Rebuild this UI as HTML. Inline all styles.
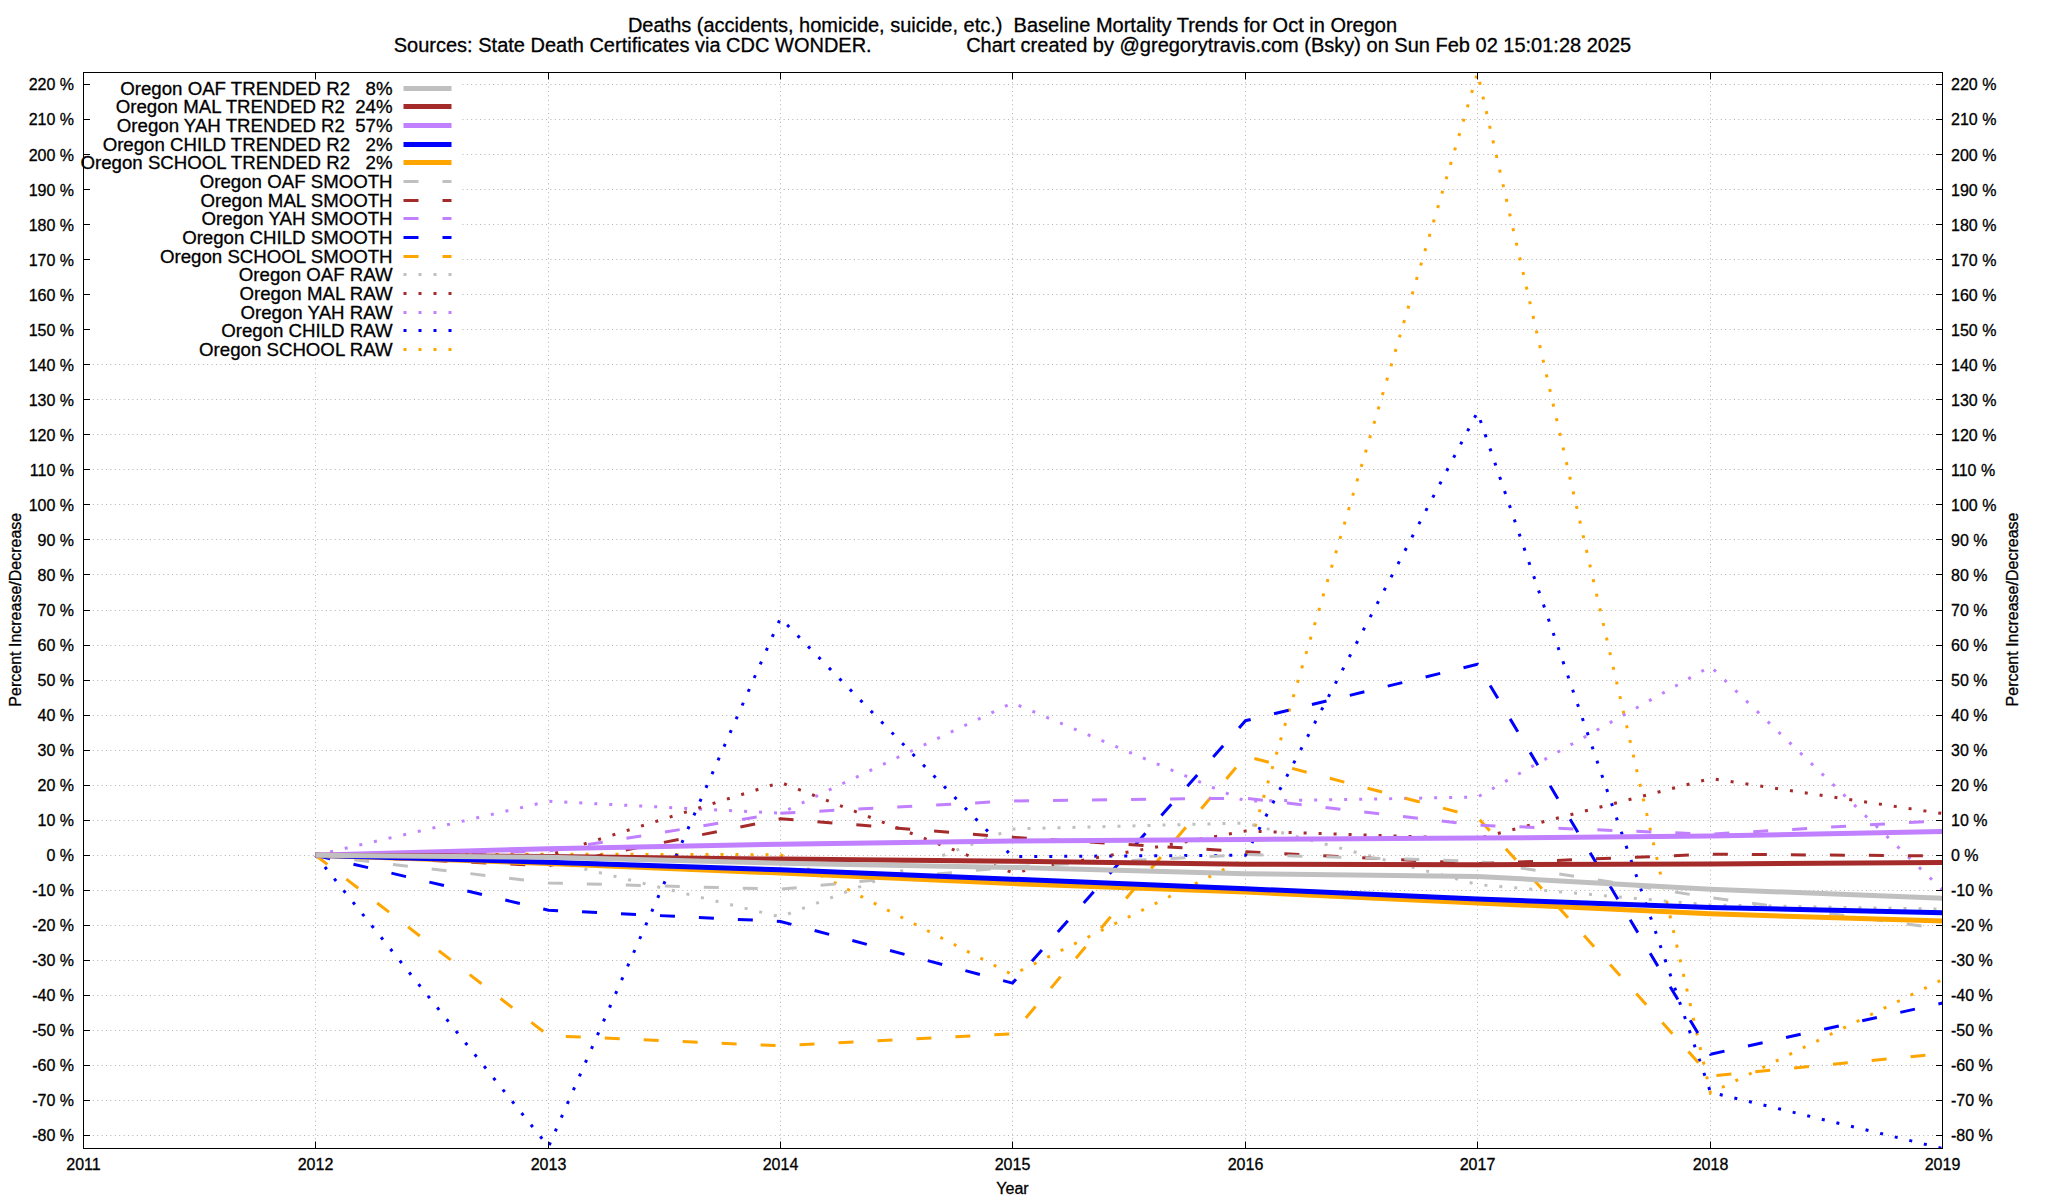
<!DOCTYPE html>
<html lang="en"><head><meta charset="utf-8"><title>Baseline Mortality Trends for Oct in Oregon</title>
<style>html,body{margin:0;padding:0;background:#fff}body{width:2048px;height:1200px;overflow:hidden}svg{display:block}text{font-family:"Liberation Sans",sans-serif;fill:#000;stroke:#000;stroke-width:0.3px}</style>
</head><body>
<svg width="2048" height="1200" viewBox="0 0 2048 1200">
<rect width="2048" height="1200" fill="#fff"/>
<defs><clipPath id="plot"><rect x="83.5" y="72.5" width="1859.0" height="1076.0"/></clipPath></defs>
<g stroke="#b2b2b2" stroke-width="1" stroke-dasharray="1 3.4" fill="none">
<line x1="84.0" y1="1135.50" x2="1942.5" y2="1135.50"/>
<line x1="84.0" y1="1100.50" x2="1942.5" y2="1100.50"/>
<line x1="84.0" y1="1065.50" x2="1942.5" y2="1065.50"/>
<line x1="84.0" y1="1030.50" x2="1942.5" y2="1030.50"/>
<line x1="84.0" y1="995.50" x2="1942.5" y2="995.50"/>
<line x1="84.0" y1="960.50" x2="1942.5" y2="960.50"/>
<line x1="84.0" y1="925.50" x2="1942.5" y2="925.50"/>
<line x1="84.0" y1="890.50" x2="1942.5" y2="890.50"/>
<line x1="84.0" y1="855.50" x2="1942.5" y2="855.50"/>
<line x1="84.0" y1="820.50" x2="1942.5" y2="820.50"/>
<line x1="84.0" y1="785.50" x2="1942.5" y2="785.50"/>
<line x1="84.0" y1="750.50" x2="1942.5" y2="750.50"/>
<line x1="84.0" y1="715.50" x2="1942.5" y2="715.50"/>
<line x1="84.0" y1="680.50" x2="1942.5" y2="680.50"/>
<line x1="84.0" y1="645.50" x2="1942.5" y2="645.50"/>
<line x1="84.0" y1="610.50" x2="1942.5" y2="610.50"/>
<line x1="84.0" y1="574.50" x2="1942.5" y2="574.50"/>
<line x1="84.0" y1="539.50" x2="1942.5" y2="539.50"/>
<line x1="84.0" y1="504.50" x2="1942.5" y2="504.50"/>
<line x1="84.0" y1="469.50" x2="1942.5" y2="469.50"/>
<line x1="84.0" y1="434.50" x2="1942.5" y2="434.50"/>
<line x1="84.0" y1="399.50" x2="1942.5" y2="399.50"/>
<line x1="84.0" y1="364.50" x2="1942.5" y2="364.50"/>
<line x1="84.0" y1="329.50" x2="1942.5" y2="329.50"/>
<line x1="84.0" y1="294.50" x2="1942.5" y2="294.50"/>
<line x1="84.0" y1="259.50" x2="1942.5" y2="259.50"/>
<line x1="84.0" y1="224.50" x2="1942.5" y2="224.50"/>
<line x1="84.0" y1="189.50" x2="1942.5" y2="189.50"/>
<line x1="84.0" y1="154.50" x2="1942.5" y2="154.50"/>
<line x1="84.0" y1="119.50" x2="1942.5" y2="119.50"/>
<line x1="84.0" y1="84.50" x2="1942.5" y2="84.50"/>
<line x1="315.50" y1="1148.0" x2="315.50" y2="72.5"/>
<line x1="548.50" y1="1148.0" x2="548.50" y2="72.5"/>
<line x1="780.50" y1="1148.0" x2="780.50" y2="72.5"/>
<line x1="1012.50" y1="1148.0" x2="1012.50" y2="72.5"/>
<line x1="1245.50" y1="1148.0" x2="1245.50" y2="72.5"/>
<line x1="1477.50" y1="1148.0" x2="1477.50" y2="72.5"/>
<line x1="1710.50" y1="1148.0" x2="1710.50" y2="72.5"/>
</g>
<rect x="84" y="73" width="377" height="286" fill="#fff"/>
<g clip-path="url(#plot)" fill="none" stroke-linejoin="miter" stroke-linecap="butt">
<polyline points="315.50,855.23 548.50,854.18 780.50,854.71 1012.50,974.70 1245.50,858.74 1477.50,72.94 1710.50,1093.11 1942.50,979.60" stroke="#ffa500" stroke-width="3" stroke-dasharray="3 12"/>
<polyline points="315.50,855.23 548.50,1146.71 780.50,618.06 1012.50,856.63 1245.50,855.23 1477.50,412.06 1710.50,1092.23 1942.50,1148.46" stroke="#0000ff" stroke-width="3" stroke-dasharray="3 12"/>
<polyline points="315.50,855.23 548.50,801.28 780.50,813.19 1012.50,702.84 1245.50,801.28 1477.50,797.08 1710.50,666.40 1942.50,889.92" stroke="#c080ff" stroke-width="3" stroke-dasharray="3 12"/>
<polyline points="315.50,855.23 548.50,855.23 780.50,782.36 1012.50,872.75 1245.50,831.06 1477.50,838.77 1710.50,778.51 1942.50,813.54" stroke="#a52a2a" stroke-width="3" stroke-dasharray="3 12"/>
<polyline points="315.50,855.23 548.50,860.14 780.50,916.89 1012.50,828.96 1245.50,823.00 1477.50,884.52 1710.50,904.98 1942.50,909.18" stroke="#c0c0c0" stroke-width="3" stroke-dasharray="3 12"/>
<polyline points="315.50,855.23 548.50,1035.65 780.50,1045.81 1012.50,1033.90 1245.50,756.09 1477.50,817.22 1710.50,1076.12 1942.50,1053.52" stroke="#ffa500" stroke-width="3" stroke-dasharray="15 24"/>
<polyline points="315.50,855.23 548.50,910.24 780.50,921.45 1012.50,983.11 1245.50,720.71 1477.50,664.30 1710.50,1054.22 1942.50,1003.07" stroke="#0000ff" stroke-width="3" stroke-dasharray="15 24"/>
<polyline points="315.50,855.23 548.50,851.03 780.50,813.19 1012.50,800.93 1245.50,798.13 1477.50,825.24 1710.50,834.21 1942.50,820.55" stroke="#c080ff" stroke-width="3" stroke-dasharray="15 24"/>
<polyline points="315.50,855.23 548.50,865.74 780.50,818.80 1012.50,837.37 1245.50,851.73 1477.50,863.64 1710.50,854.18 1942.50,855.93" stroke="#a52a2a" stroke-width="3" stroke-dasharray="15 24"/>
<polyline points="315.50,855.23 548.50,882.91 780.50,889.22 1012.50,866.79 1245.50,854.53 1477.50,861.19 1710.50,897.62 1942.50,928.80" stroke="#c0c0c0" stroke-width="3" stroke-dasharray="15 24"/>
<polyline points="315.50,855.23 548.50,863.47 780.50,873.10 1012.50,883.61 1245.50,892.02 1477.50,902.88 1710.50,913.74 1942.50,921.10" stroke="#ffa500" stroke-width="5"/>
<polyline points="315.50,855.23 548.50,862.24 780.50,869.77 1012.50,879.23 1245.50,888.73 1477.50,899.02 1710.50,907.43 1942.50,912.86" stroke="#0000ff" stroke-width="5"/>
<polyline points="315.50,855.23 548.50,848.72 780.50,844.23 1012.50,840.94 1245.50,839.47 1477.50,838.07 1710.50,835.97 1942.50,831.62" stroke="#c080ff" stroke-width="5"/>
<polyline points="315.50,855.23 548.50,856.46 780.50,859.09 1012.50,861.19 1245.50,864.24 1477.50,864.69 1710.50,863.99 1942.50,862.59" stroke="#a52a2a" stroke-width="5"/>
<polyline points="315.50,855.23 548.50,857.23 780.50,863.29 1012.50,867.50 1245.50,873.73 1477.50,876.43 1710.50,889.22 1942.50,898.22" stroke="#c0c0c0" stroke-width="5"/>
</g>
<g stroke="#000" stroke-width="1" fill="none">
<rect x="83.5" y="72.5" width="1859.0" height="1076.0"/>
<path d="M83.5 1135.5h6.5M1942.5 1135.5h-6.5M83.5 1100.5h6.5M1942.5 1100.5h-6.5M83.5 1065.5h6.5M1942.5 1065.5h-6.5M83.5 1030.5h6.5M1942.5 1030.5h-6.5M83.5 995.5h6.5M1942.5 995.5h-6.5M83.5 960.5h6.5M1942.5 960.5h-6.5M83.5 925.5h6.5M1942.5 925.5h-6.5M83.5 890.5h6.5M1942.5 890.5h-6.5M83.5 855.5h6.5M1942.5 855.5h-6.5M83.5 820.5h6.5M1942.5 820.5h-6.5M83.5 785.5h6.5M1942.5 785.5h-6.5M83.5 750.5h6.5M1942.5 750.5h-6.5M83.5 715.5h6.5M1942.5 715.5h-6.5M83.5 680.5h6.5M1942.5 680.5h-6.5M83.5 645.5h6.5M1942.5 645.5h-6.5M83.5 610.5h6.5M1942.5 610.5h-6.5M83.5 574.5h6.5M1942.5 574.5h-6.5M83.5 539.5h6.5M1942.5 539.5h-6.5M83.5 504.5h6.5M1942.5 504.5h-6.5M83.5 469.5h6.5M1942.5 469.5h-6.5M83.5 434.5h6.5M1942.5 434.5h-6.5M83.5 399.5h6.5M1942.5 399.5h-6.5M83.5 364.5h6.5M1942.5 364.5h-6.5M83.5 329.5h6.5M1942.5 329.5h-6.5M83.5 294.5h6.5M1942.5 294.5h-6.5M83.5 259.5h6.5M1942.5 259.5h-6.5M83.5 224.5h6.5M1942.5 224.5h-6.5M83.5 189.5h6.5M1942.5 189.5h-6.5M83.5 154.5h6.5M1942.5 154.5h-6.5M83.5 119.5h6.5M1942.5 119.5h-6.5M83.5 84.5h6.5M1942.5 84.5h-6.5M83.5 1148.5v-7M83.5 72.5v7M315.5 1148.5v-7M315.5 72.5v7M548.5 1148.5v-7M548.5 72.5v7M780.5 1148.5v-7M780.5 72.5v7M1012.5 1148.5v-7M1012.5 72.5v7M1245.5 1148.5v-7M1245.5 72.5v7M1477.5 1148.5v-7M1477.5 72.5v7M1710.5 1148.5v-7M1710.5 72.5v7M1942.5 1148.5v-7M1942.5 72.5v7"/>
</g>
<g font-size="16">
<text x="74" y="1141.4" text-anchor="end">-80 %</text>
<text x="1951" y="1141.4">-80 %</text>
<text x="74" y="1106.4" text-anchor="end">-70 %</text>
<text x="1951" y="1106.4">-70 %</text>
<text x="74" y="1071.3" text-anchor="end">-60 %</text>
<text x="1951" y="1071.3">-60 %</text>
<text x="74" y="1036.3" text-anchor="end">-50 %</text>
<text x="1951" y="1036.3">-50 %</text>
<text x="74" y="1001.3" text-anchor="end">-40 %</text>
<text x="1951" y="1001.3">-40 %</text>
<text x="74" y="966.2" text-anchor="end">-30 %</text>
<text x="1951" y="966.2">-30 %</text>
<text x="74" y="931.2" text-anchor="end">-20 %</text>
<text x="1951" y="931.2">-20 %</text>
<text x="74" y="896.2" text-anchor="end">-10 %</text>
<text x="1951" y="896.2">-10 %</text>
<text x="74" y="861.1" text-anchor="end">0 %</text>
<text x="1951" y="861.1">0 %</text>
<text x="74" y="826.1" text-anchor="end">10 %</text>
<text x="1951" y="826.1">10 %</text>
<text x="74" y="791.1" text-anchor="end">20 %</text>
<text x="1951" y="791.1">20 %</text>
<text x="74" y="756.0" text-anchor="end">30 %</text>
<text x="1951" y="756.0">30 %</text>
<text x="74" y="721.0" text-anchor="end">40 %</text>
<text x="1951" y="721.0">40 %</text>
<text x="74" y="686.0" text-anchor="end">50 %</text>
<text x="1951" y="686.0">50 %</text>
<text x="74" y="650.9" text-anchor="end">60 %</text>
<text x="1951" y="650.9">60 %</text>
<text x="74" y="615.9" text-anchor="end">70 %</text>
<text x="1951" y="615.9">70 %</text>
<text x="74" y="580.9" text-anchor="end">80 %</text>
<text x="1951" y="580.9">80 %</text>
<text x="74" y="545.8" text-anchor="end">90 %</text>
<text x="1951" y="545.8">90 %</text>
<text x="74" y="510.8" text-anchor="end">100 %</text>
<text x="1951" y="510.8">100 %</text>
<text x="74" y="475.8" text-anchor="end">110 %</text>
<text x="1951" y="475.8">110 %</text>
<text x="74" y="440.7" text-anchor="end">120 %</text>
<text x="1951" y="440.7">120 %</text>
<text x="74" y="405.7" text-anchor="end">130 %</text>
<text x="1951" y="405.7">130 %</text>
<text x="74" y="370.7" text-anchor="end">140 %</text>
<text x="1951" y="370.7">140 %</text>
<text x="74" y="335.6" text-anchor="end">150 %</text>
<text x="1951" y="335.6">150 %</text>
<text x="74" y="300.6" text-anchor="end">160 %</text>
<text x="1951" y="300.6">160 %</text>
<text x="74" y="265.6" text-anchor="end">170 %</text>
<text x="1951" y="265.6">170 %</text>
<text x="74" y="230.5" text-anchor="end">180 %</text>
<text x="1951" y="230.5">180 %</text>
<text x="74" y="195.5" text-anchor="end">190 %</text>
<text x="1951" y="195.5">190 %</text>
<text x="74" y="160.5" text-anchor="end">200 %</text>
<text x="1951" y="160.5">200 %</text>
<text x="74" y="125.4" text-anchor="end">210 %</text>
<text x="1951" y="125.4">210 %</text>
<text x="74" y="90.4" text-anchor="end">220 %</text>
<text x="1951" y="90.4">220 %</text>
<text x="83.5" y="1170" text-anchor="middle">2011</text>
<text x="315.5" y="1170" text-anchor="middle">2012</text>
<text x="548.5" y="1170" text-anchor="middle">2013</text>
<text x="780.5" y="1170" text-anchor="middle">2014</text>
<text x="1012.5" y="1170" text-anchor="middle">2015</text>
<text x="1245.5" y="1170" text-anchor="middle">2016</text>
<text x="1477.5" y="1170" text-anchor="middle">2017</text>
<text x="1710.5" y="1170" text-anchor="middle">2018</text>
<text x="1942.5" y="1170" text-anchor="middle">2019</text>
<text x="1012.5" y="1193.6" text-anchor="middle">Year</text>
<text transform="translate(21,609.7) rotate(-90)" text-anchor="middle">Percent Increase/Decrease</text>
<text transform="translate(2018,609.5) rotate(-90)" text-anchor="middle">Percent Increase/Decrease</text>
</g>
<g font-size="20" text-anchor="middle">
<text x="1012.5" y="32" xml:space="preserve" style="white-space:pre">Deaths (accidents, homicide, suicide, etc.)  Baseline Mortality Trends for Oct in Oregon</text>
<text x="1012.5" y="51.7" xml:space="preserve" style="white-space:pre">Sources: State Death Certificates via CDC WONDER.                 Chart created by @gregorytravis.com (Bsky) on Sun Feb 02 15:01:28 2025</text>
</g>
<g font-size="18.67" text-anchor="end">
<text x="392.6" y="94.90" xml:space="preserve" style="white-space:pre">Oregon OAF TRENDED R2   8%</text>
<text x="392.6" y="112.90" xml:space="preserve" style="white-space:pre">Oregon MAL TRENDED R2  24%</text>
<text x="392.6" y="131.90" xml:space="preserve" style="white-space:pre">Oregon YAH TRENDED R2  57%</text>
<text x="392.6" y="150.90" xml:space="preserve" style="white-space:pre">Oregon CHILD TRENDED R2   2%</text>
<text x="392.6" y="168.90" xml:space="preserve" style="white-space:pre">Oregon SCHOOL TRENDED R2   2%</text>
<text x="392.6" y="187.90" xml:space="preserve" style="white-space:pre">Oregon OAF SMOOTH</text>
<text x="392.6" y="206.90" xml:space="preserve" style="white-space:pre">Oregon MAL SMOOTH</text>
<text x="392.6" y="224.90" xml:space="preserve" style="white-space:pre">Oregon YAH SMOOTH</text>
<text x="392.6" y="243.90" xml:space="preserve" style="white-space:pre">Oregon CHILD SMOOTH</text>
<text x="392.6" y="262.90" xml:space="preserve" style="white-space:pre">Oregon SCHOOL SMOOTH</text>
<text x="392.6" y="280.90" xml:space="preserve" style="white-space:pre">Oregon OAF RAW</text>
<text x="392.6" y="299.90" xml:space="preserve" style="white-space:pre">Oregon MAL RAW</text>
<text x="392.6" y="318.90" xml:space="preserve" style="white-space:pre">Oregon YAH RAW</text>
<text x="392.6" y="336.90" xml:space="preserve" style="white-space:pre">Oregon CHILD RAW</text>
<text x="392.6" y="355.90" xml:space="preserve" style="white-space:pre">Oregon SCHOOL RAW</text>
</g>
<g fill="none">
<line x1="403.5" y1="88.50" x2="451.5" y2="88.50" stroke="#c0c0c0" stroke-width="5"/>
<line x1="403.5" y1="106.50" x2="451.5" y2="106.50" stroke="#a52a2a" stroke-width="5"/>
<line x1="403.5" y1="125.50" x2="451.5" y2="125.50" stroke="#c080ff" stroke-width="5"/>
<line x1="403.5" y1="144.50" x2="451.5" y2="144.50" stroke="#0000ff" stroke-width="5"/>
<line x1="403.5" y1="162.50" x2="451.5" y2="162.50" stroke="#ffa500" stroke-width="5"/>
<line x1="403.5" y1="181.50" x2="451.5" y2="181.50" stroke="#c0c0c0" stroke-width="3" stroke-dasharray="15 24"/>
<line x1="403.5" y1="200.50" x2="451.5" y2="200.50" stroke="#a52a2a" stroke-width="3" stroke-dasharray="15 24"/>
<line x1="403.5" y1="218.50" x2="451.5" y2="218.50" stroke="#c080ff" stroke-width="3" stroke-dasharray="15 24"/>
<line x1="403.5" y1="237.50" x2="451.5" y2="237.50" stroke="#0000ff" stroke-width="3" stroke-dasharray="15 24"/>
<line x1="403.5" y1="256.50" x2="451.5" y2="256.50" stroke="#ffa500" stroke-width="3" stroke-dasharray="15 24"/>
<line x1="403.5" y1="274.50" x2="451.5" y2="274.50" stroke="#c0c0c0" stroke-width="3" stroke-dasharray="3 12"/>
<line x1="403.5" y1="293.50" x2="451.5" y2="293.50" stroke="#a52a2a" stroke-width="3" stroke-dasharray="3 12"/>
<line x1="403.5" y1="312.50" x2="451.5" y2="312.50" stroke="#c080ff" stroke-width="3" stroke-dasharray="3 12"/>
<line x1="403.5" y1="330.50" x2="451.5" y2="330.50" stroke="#0000ff" stroke-width="3" stroke-dasharray="3 12"/>
<line x1="403.5" y1="349.50" x2="451.5" y2="349.50" stroke="#ffa500" stroke-width="3" stroke-dasharray="3 12"/>
</g>
</svg>
</body></html>
